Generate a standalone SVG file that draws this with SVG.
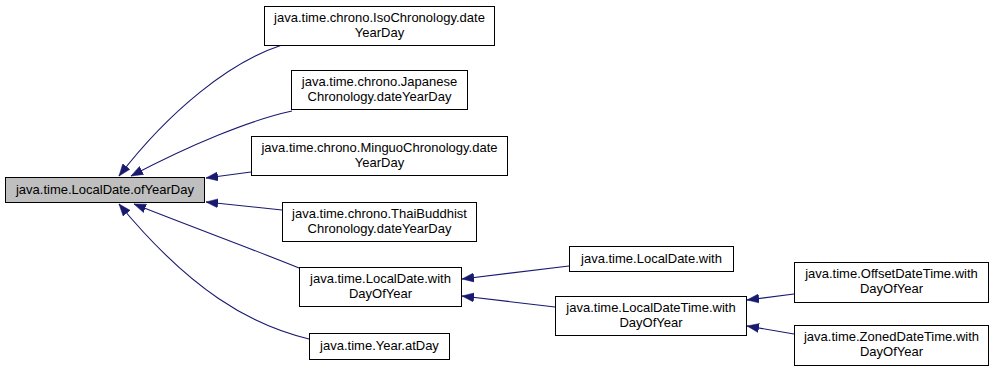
<svg xmlns="http://www.w3.org/2000/svg" width="995" height="375" viewBox="0 0 995 375">
  <style>
    .node rect { fill: #ffffff; stroke: #000000; stroke-width: 1; }
    .node.main rect { fill: #bfbfbf; }
    .node text { font-family: "Liberation Sans", Arial, sans-serif; font-size: 13px; fill: #000000; text-anchor: middle; }
    .edge { fill: none; stroke: #191970; stroke-width: 1.1; marker-end: url(#arrow); }
  </style>
  <defs>
    <!-- filled call arrowhead, tip at the end of each edge -->
    <marker id="arrow" markerUnits="userSpaceOnUse" markerWidth="13" markerHeight="10" refX="12" refY="5" orient="auto">
      <path d="M0,0.5 L12,5 L0,9.5 z" fill="#191970" stroke="#191970" stroke-width="0.5"/>
    </marker>
  </defs>
  <rect width="995" height="375" fill="#ffffff"/>

  <!-- call edges: caller -> callee -->
  <g id="edges">
    <path class="edge" d="M282,45 C230,62 170,110 119,176"/>
    <path class="edge" d="M292,111 C250,120 190,145 131,176"/>
    <path class="edge" d="M251,172 L206,178"/>
    <path class="edge" d="M282,210 L206,202"/>
    <path class="edge" d="M299,268 C260,252 200,230 134,204"/>
    <path class="edge" d="M309,339 C250,325 190,290 119,204"/>
    <path class="edge" d="M569,266 L462,279"/>
    <path class="edge" d="M555,307 L462,296"/>
    <path class="edge" d="M794,294 L747,300"/>
    <path class="edge" d="M794,334 L747,326"/>
  </g>

  <g id="node-ofYearDay" class="node main">
    <rect x="5.5" y="177.5" width="199" height="25"/>
    <text x="105" y="194">java.time.LocalDate.ofYearDay</text>
  </g>
  <g id="node-iso" class="node">
    <rect x="264.5" y="6.5" width="230" height="39"/>
    <text x="379.5" y="22">java.time.chrono.IsoChronology.date</text>
    <text x="379.5" y="37">YearDay</text>
  </g>
  <g id="node-japanese" class="node">
    <rect x="291.5" y="70.5" width="176" height="39"/>
    <text x="379.5" y="86">java.time.chrono.Japanese</text>
    <text x="379.5" y="101">Chronology.dateYearDay</text>
  </g>
  <g id="node-minguo" class="node">
    <rect x="251.5" y="136.5" width="256" height="39"/>
    <text x="379.5" y="152">java.time.chrono.MinguoChronology.date</text>
    <text x="379.5" y="167">YearDay</text>
  </g>
  <g id="node-thai" class="node">
    <rect x="282.5" y="202.5" width="194" height="39"/>
    <text x="379.5" y="218">java.time.chrono.ThaiBuddhist</text>
    <text x="379.5" y="233">Chronology.dateYearDay</text>
  </g>
  <g id="node-withDayOfYear" class="node">
    <rect x="299.5" y="267.5" width="162" height="39"/>
    <text x="380.5" y="283">java.time.LocalDate.with</text>
    <text x="380.5" y="298">DayOfYear</text>
  </g>
  <g id="node-atDay" class="node">
    <rect x="309.5" y="333.5" width="140" height="26"/>
    <text x="379.5" y="350">java.time.Year.atDay</text>
  </g>
  <g id="node-localDateWith" class="node">
    <rect x="569.5" y="246.5" width="164" height="25"/>
    <text x="651.5" y="263">java.time.LocalDate.with</text>
  </g>
  <g id="node-localDateTimeWithDayOfYear" class="node">
    <rect x="555.5" y="296.5" width="191" height="39"/>
    <text x="651" y="312">java.time.LocalDateTime.with</text>
    <text x="651" y="327">DayOfYear</text>
  </g>
  <g id="node-offsetWithDayOfYear" class="node">
    <rect x="794.5" y="262.5" width="194" height="40"/>
    <text x="891.5" y="278">java.time.OffsetDateTime.with</text>
    <text x="891.5" y="293">DayOfYear</text>
  </g>
  <g id="node-zonedWithDayOfYear" class="node">
    <rect x="794.5" y="325.5" width="194" height="40"/>
    <text x="891.5" y="341">java.time.ZonedDateTime.with</text>
    <text x="891.5" y="356">DayOfYear</text>
  </g>
</svg>
